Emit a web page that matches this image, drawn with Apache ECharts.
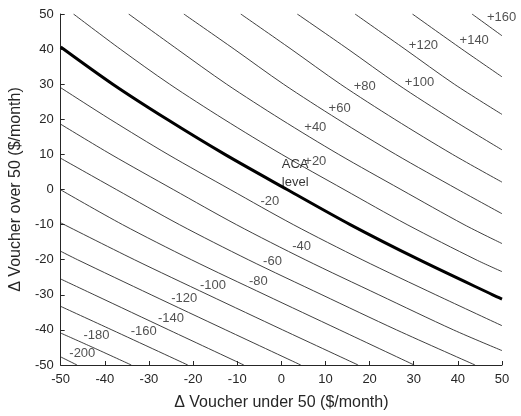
<!DOCTYPE html>
<html>
<head>
<meta charset="utf-8">
<script src="https://cdn.jsdelivr.net/npm/echarts@6/dist/echarts.min.js"></script>
<style>
html,body{margin:0;padding:0;background:#fff;}
#chart{width:521px;height:416px;}
</style>
</head>
<body>
<div id="chart"></div>
<script>
// Axis ticks
const xTicks = [-50, -40, -30, -20, -10, 0, 10, 20, 30, 40, 50];
const yTicks = [-50, -40, -30, -20, -10, 0, 10, 20, 30, 40, 50];

// Contour lines: [x (under 50), y (over 50)]
const line_p160 = [[43.2,50],[50,43.8]];
const line_p140 = [[29.7,50],[40.9,40],[50,32.1]];
const line_p120 = [[16.7,50],[28.0,40],[39.2,30],[50,21.4]];
const line_p100 = [[3.6,50],[15.1,40],[26.3,30],[38.6,20],[50,11.3]];
const line_p80  = [[-9.2,50],[2.2,40],[13.4,30],[25.7,20],[38.8,10],[50,2.1]];
const line_p60  = [[-22.1,50],[-10.7,40],[0.5,30],[12.8,20],[25.9,10],[40.0,0],[50,-6.9]];
const line_p40  = [[-34.6,50],[-23.6,40],[-12.4,30],[-0.1,20],[13.0,10],[27.1,0],[41.4,-10],[50,-15.4]];
const line_p20  = [[-47.1,50],[-36.5,40],[-25.3,30],[-13.0,20],[0.1,10],[14.2,0],[28.5,-10],[44.1,-20],[50,-23.4]];
const line_aca  = [[-50,40.6],[-38.2,30],[-25.9,20],[-12.8,10],[1.3,0],[15.6,-10],[31.2,-20],[47.9,-30],[50,-31.2]];
const line_m20  = [[-50,29.0],[-38.8,20],[-25.7,10],[-11.6,0],[2.7,-10],[18.3,-20],[35.0,-30],[50,-38.8]];
const line_m40  = [[-50,18.6],[-38.6,10],[-24.5,0],[-10.2,-10],[5.4,-20],[22.1,-30],[39.0,-40],[50,-45.9]];
const line_m60  = [[-50,8.9],[-37.4,0],[-23.1,-10],[-7.5,-20],[9.2,-30],[26.1,-40],[43.9,-50]];
const line_m80  = [[-50,-0.1],[-36.0,-10],[-20.4,-20],[-3.7,-30],[13.2,-40],[30.1,-50]];
const line_m100 = [[-50,-9.5],[-33.3,-20],[-16.6,-30],[0.3,-40],[17.4,-50]];
const line_m120 = [[-50,-17.6],[-46.2,-20],[-29.5,-30],[-12.6,-40],[4.4,-50]];
const line_m140 = [[-50,-25.5],[-42.4,-30],[-25.5,-40],[-8.5,-50]];
const line_m160 = [[-50,-33.3],[-38.4,-40],[-21.2,-50]];
const line_m180 = [[-50,-40.9],[-42.7,-45],[-34.0,-50]];
const line_m200 = [[-50,-47.7],[-46.3,-50]];

// Contour labels: [x, y, text]
const contourLabels = [
  [49.9, 49.1, '+160'],
  [43.7, 42.4, '+140'],
  [32.2, 41.0, '+120'],
  [31.3, 30.4, '+100'],
  [18.9, 29.3, '+80'],
  [13.2, 23.0, '+60'],
  [7.7, 17.6, '+40'],
  [7.7, 8.0, '+20'],
  [-2.6, -3.4, '-20'],
  [4.6, -16.3, '-40'],
  [-2.0, -20.4, '-60'],
  [-5.2, -26.2, '-80'],
  [-15.5, -27.2, '-100'],
  [-22.0, -31.1, '-120'],
  [-25.0, -36.8, '-140'],
  [-31.2, -40.4, '-160'],
  [-41.9, -41.5, '-180'],
  [-45.1, -46.7, '-200']
];
const acaLabel = [[0.1, 4.5, 'ACA\nlevel']];

const thinLines = [line_p160, line_p140, line_p120, line_p100, line_p80, line_p60, line_p40, line_p20,
  line_m20, line_m40, line_m60, line_m80, line_m100, line_m120, line_m140, line_m160, line_m180, line_m200];

const textColor = '#262626';
const font = 'Liberation Sans, Arial, sans-serif';

const series = thinLines.map(d => ({
  type: 'line', data: d, showSymbol: false, symbol: 'none', smooth: 0.3, clip: true,
  lineStyle: {color: '#2a2a2a', width: 0.9}, silent: true, z: 2
}));
series.push({
  type: 'line', data: line_aca, showSymbol: false, symbol: 'none', smooth: 0.3, clip: true,
  lineStyle: {color: '#000', width: 3}, silent: true, z: 3
});
series.push({
  type: 'scatter', data: contourLabels.map(r => ({value: [r[0], r[1]], name: r[2]})),
  symbolSize: 0, silent: true, z: 5,
  label: {show: true, position: 'inside', formatter: p => p.name,
    color: textColor, fontFamily: font, fontSize: 13, align: 'center', verticalAlign: 'middle'}
});
series.push({
  type: 'scatter', data: acaLabel.map(r => ({value: [r[0], r[1]], name: r[2]})),
  symbolSize: 0, silent: true, z: 5,
  label: {show: true, position: 'inside', formatter: p => p.name,
    color: '#000', fontFamily: font, fontSize: 13, lineHeight: 18, align: 'left', verticalAlign: 'middle'}
});

const axisCommon = {
  type: 'value', min: -50, max: 50, interval: 10,
  axisLine: {show: true, onZero: false, lineStyle: {color: textColor, width: 1}},
  axisTick: {show: true, inside: true, length: 4, lineStyle: {color: textColor, width: 1}},
  splitLine: {show: false},
  nameLocation: 'middle',
  nameTextStyle: {color: textColor, fontFamily: font, fontSize: 16}
};

const chart = echarts.init(document.getElementById('chart'), null, {renderer: 'canvas'});
chart.setOption({
  animation: false,
  backgroundColor: '#fff',
  grid: {left: 55, right: 19, top: 14, bottom: 49, containLabel: false},
  xAxis: Object.assign({}, axisCommon, {
    name: '\u0394 Voucher under 50 ($/month)', nameGap: 30,
    axisLabel: {color: textColor, fontFamily: font, fontSize: 13, margin: 8,
      customValues: xTicks}
  }),
  yAxis: Object.assign({}, axisCommon, {
    name: '\u0394 Voucher over 50 ($/month)', nameGap: 34,
    axisLabel: {color: textColor, fontFamily: font, fontSize: 13, margin: 7,
      customValues: yTicks}
  }),
  series: series
});
</script>
</body>
</html>
